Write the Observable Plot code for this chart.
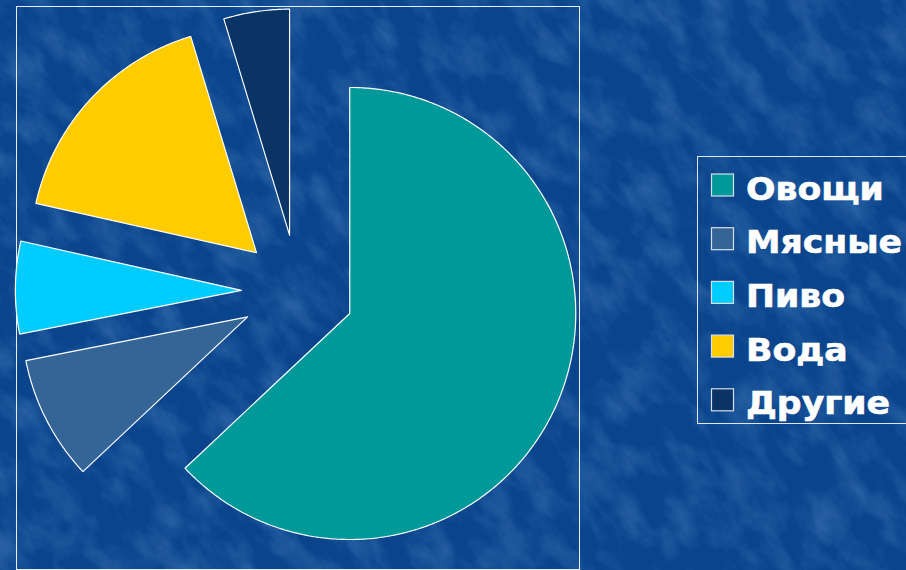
<!DOCTYPE html>
<html><head><meta charset="utf-8">
<script src="https://cdn.jsdelivr.net/npm/d3@7"></script>
<script src="https://cdn.jsdelivr.net/npm/@observablehq/plot@0.6"></script>
<style>
html,body{margin:0;padding:0;width:906px;height:570px;overflow:hidden;background:#0b468f;}
#bg,#chart,#legend{position:absolute;left:0;top:0}
#chart svg{overflow:visible}
</style></head>
<body>
<svg id="bg" width="906" height="570">
  <filter id="tex" x="0" y="0" width="100%" height="100%">
    <feTurbulence type="fractalNoise" baseFrequency="0.04 0.022" numOctaves="4" seed="11"/>
    <feColorMatrix type="matrix" values="0 0 0 0 0.17  0 0 0 0 0.40  0 0 0 0 0.72  0 0 0 1.5 -0.6"/>
  </filter>
  <rect width="906" height="570" fill="#0a448c"/>
  <g transform="rotate(-40 453 285)"><rect x="-300" y="-300" width="1500" height="1200" filter="url(#tex)" opacity="0.4"/></g>
</svg>
<div id="chart"></div>
<svg id="legend" width="906" height="570"></svg>
<script>
const categories = ["Овощи", "Мясные", "Пиво", "Вода", "Другие"];
const shares = [63.0, 8.9, 6.6, 16.8, 4.7];
const colors = ["#009999", "#356596", "#00ccff", "#ffcc00", "#0a3366"];

// exploded pie: every slice pulled out along its bisector
const explode = 0.25;
const arcs = d3.pie().sort(null).value(d => d)(shares);
const points = [];
arcs.forEach((a, i) => {
  const mid = (a.startAngle + a.endAngle) / 2;
  const ox = explode * Math.sin(mid), oy = explode * Math.cos(mid);
  const cat = categories[i];
  points.push({category: cat, x: ox, y: oy});
  const n = Math.max(2, Math.ceil((a.endAngle - a.startAngle) / 0.01));
  for (let k = 0; k <= n; k++) {
    const t = a.startAngle + (a.endAngle - a.startAngle) * k / n;
    points.push({category: cat, x: ox + Math.sin(t), y: oy + Math.cos(t)});
  }
  points.push({category: cat, x: ox, y: oy});
});

const chart = Plot.plot({
  width: 580, height: 570,
  marginLeft: 16, marginRight: 1, marginTop: 6, marginBottom: 1,
  x: {domain: [-1.245, 1.246], axis: null},
  y: {domain: [-1.232, 1.259], axis: null},
  color: {domain: categories, range: colors},
  style: {background: "transparent"},
  marks: [
    Plot.frame({stroke: "#e8eef5", strokeWidth: 1}),
    Plot.line(points, {x: "x", y: "y", z: "category", fill: "category", stroke: "white", strokeWidth: 1.2, strokeLinejoin: "miter"})
  ]
});
document.getElementById("chart").append(chart);

// legend
const lg = d3.select("#legend");
lg.append("rect").attr("x", 697.5).attr("y", 156.5).attr("width", 240).attr("height", 267)
  .attr("fill", "none").attr("stroke", "#dfe6ef").attr("stroke-width", 1);
categories.forEach((c, i) => {
  const cy = 185.5 + i * 53.7;
  lg.append("rect").attr("x", 711.5).attr("y", cy - 11.5).attr("width", 22).attr("height", 22)
    .attr("fill", colors[i]).attr("stroke", "#d8dde6").attr("stroke-width", 1.2);
  lg.append("text").attr("transform", `translate(746,${cy + 14}) scale(1.1,1)`).text(c)
    .attr("fill", "white").attr("stroke", "white").attr("stroke-width", 0.6)
    .attr("font-family", "DejaVu Sans").attr("font-weight", "bold")
    .attr("font-size", 31.5);
});
</script>
</body></html>
